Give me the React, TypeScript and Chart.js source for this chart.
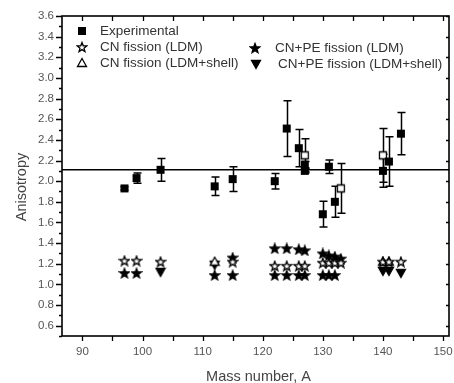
import { useEffect, useRef } from 'react';
import { Chart, registerables } from 'chart.js';
Chart.register(...registerables);

// ---- Data ----
const expMass = [97, 99, 103, 112, 115, 122, 124, 126, 127, 127, 130, 131, 132, 140, 141, 143];
const expAniso = [1.93, 2.03, 2.11, 1.95, 2.02, 2.0, 2.51, 2.32, 2.16, 2.1, 1.68, 2.14, 1.8, 2.1, 2.19, 2.46];
const expErr = [0.015, 0.05, 0.11, 0.09, 0.12, 0.075, 0.27, 0.18, 0.03, 0.02, 0.125, 0.065, 0.15, 0.16, 0.24, 0.205];

const openMass = [127, 133, 140];
const openAniso = [2.25, 1.93, 2.25];
const openErr = [0.16, 0.24, 0.26];

const cnLdmMass = [97, 99, 103, 115, 122, 124, 126, 127, 130, 131, 132, 133, 140, 141, 143];
const cnLdmAniso = [1.23, 1.23, 1.22, 1.22, 1.18, 1.18, 1.18, 1.18, 1.21, 1.21, 1.21, 1.21, 1.22, 1.22, 1.22];

const cnpeLdmMass = [115, 122, 124, 126, 127, 130, 131, 132, 133];
const cnpeLdmAniso = [1.26, 1.35, 1.35, 1.34, 1.33, 1.3, 1.28, 1.27, 1.25];
const cnpeLdmLowMass = [97, 99, 112, 115, 122, 124, 126, 127, 130, 131, 132];
const cnpeLdmLowAniso = [1.11, 1.11, 1.09, 1.09, 1.09, 1.09, 1.09, 1.09, 1.09, 1.09, 1.09];

const cnShellMass = [112, 140, 141];
const cnShellAniso = [1.22, 1.22, 1.22];

const cnpeShellMass = [103, 112, 140, 141, 143];
const cnpeShellAniso = [1.12, 1.19, 1.13, 1.13, 1.11];

const referenceLevel = 2.11;

const xTitle = 'Mass number, A';
const yTitle = 'Anisotropy';

const FONT = '"Liberation Sans", Arial, sans-serif';

const pts = (xs: number[], ys: number[]) => xs.map((x, i) => ({ x, y: ys[i] }));

function makeMarker(kind: string): HTMLCanvasElement {
  const s = 12;
  const c = document.createElement('canvas');
  c.width = s;
  c.height = s;
  const g = c.getContext('2d')!;
  const cx = s / 2, cy = s / 2;
  g.lineWidth = 1.3;
  g.strokeStyle = '#000';
  g.fillStyle = '#000';
  g.beginPath();
  if (kind === 'square') {
    g.rect(cx - 4, cy - 4, 8, 8);
    g.fill();
  } else if (kind === 'openSquare') {
    g.rect(cx - 3.5, cy - 3.5, 7, 7);
    g.fillStyle = '#fff';
    g.fill();
    g.stroke();
  } else if (kind === 'star' || kind === 'openStar') {
    for (let i = 0; i < 10; i++) {
      const r = i % 2 ? 2.1 : 5;
      const a = -Math.PI / 2 + (i * Math.PI) / 5;
      const px = cx + r * Math.cos(a), py = cy + 0.5 + r * Math.sin(a);
      if (i === 0) g.moveTo(px, py);
      else g.lineTo(px, py);
    }
    g.closePath();
    if (kind === 'openStar') {
      g.fillStyle = '#fff';
      g.fill();
      g.stroke();
    } else {
      g.fill();
      g.stroke();
    }
  } else if (kind === 'openTriangle') {
    g.moveTo(cx, cy - 4.5);
    g.lineTo(cx + 4.5, cy + 3.5);
    g.lineTo(cx - 4.5, cy + 3.5);
    g.closePath();
    g.fillStyle = '#fff';
    g.fill();
    g.stroke();
  } else if (kind === 'invTriangle') {
    g.moveTo(cx - 4.5, cy - 3.5);
    g.lineTo(cx + 4.5, cy - 3.5);
    g.lineTo(cx, cy + 4.5);
    g.closePath();
    g.fill();
    g.stroke();
  }
  return c;
}

// legend slots: [markerX, markerY, textX] (layout only)
const legendSlots: Record<number, [number, number, number]> = {
  0: [82, 31, 100],
  1: [82, 47, 100],
  2: [255, 48, 275],
  3: [82, 63, 100],
  4: [256, 64, 278],
};

const decorPlugin = {
  id: 'decor',
  beforeDatasetsDraw(chart: any) {
    const { ctx, chartArea, scales } = chart;
    const xs = scales.x, ys = scales.y;
    ctx.save();
    ctx.strokeStyle = '#000';
    ctx.lineWidth = 1.5;
    const yr = ys.getPixelForValue(referenceLevel);
    ctx.beginPath();
    ctx.moveTo(chartArea.left, yr);
    ctx.lineTo(chartArea.right, yr);
    ctx.stroke();
    chart.data.datasets.forEach((ds: any) => {
      const errs = ds.errors;
      if (!errs) return;
      ds.data.forEach((p: any, j: number) => {
        const px = Math.round(xs.getPixelForValue(p.x)) + 0.5;
        const top = ys.getPixelForValue(p.y + errs[j]);
        const bot = ys.getPixelForValue(p.y - errs[j]);
        ctx.beginPath();
        ctx.moveTo(px, top);
        ctx.lineTo(px, bot);
        ctx.moveTo(px - 4, top);
        ctx.lineTo(px + 4, top);
        ctx.moveTo(px - 4, bot);
        ctx.lineTo(px + 4, bot);
        ctx.stroke();
      });
    });
    ctx.restore();
  },
  afterDraw(chart: any) {
    const { ctx, chartArea, scales } = chart;
    const { left, right, top, bottom } = chartArea;
    const xs = scales.x, ys = scales.y;
    ctx.save();
    ctx.strokeStyle = '#000';
    ctx.lineWidth = 1.6;
    ctx.strokeRect(left, top, right - left, bottom - top);
    ctx.lineWidth = 1.3;
    ctx.beginPath();
    for (let k = Math.ceil(xs.min / 5); k * 5 <= xs.max; k++) {
      const px = Math.round(xs.getPixelForValue(k * 5)) + 0.5;
      ctx.moveTo(px, bottom);
      ctx.lineTo(px, bottom + 5);
      ctx.moveTo(px, top);
      ctx.lineTo(px, top + 5);
    }
    for (let k = Math.ceil(ys.min * 10 - 1e-6); k <= Math.floor(ys.max * 10 + 1e-6); k++) {
      const py = Math.round(ys.getPixelForValue(k / 10)) + 0.5;
      const major = k % 2 === 0;
      ctx.moveTo(left, py);
      ctx.lineTo(left - (major ? 6 : 3), py);
      if (major) {
        ctx.moveTo(right, py);
        ctx.lineTo(right - 3, py);
      }
    }
    ctx.stroke();

    // legend
    const markers = chart.options.plugins.decor.markers;
    ctx.font = `13.5px ${FONT}`;
    ctx.fillStyle = '#333';
    ctx.textBaseline = 'middle';
    ctx.textAlign = 'left';
    Object.keys(legendSlots).forEach((key) => {
      const i = Number(key);
      const [mx, my, tx] = legendSlots[i];
      const ds = chart.data.datasets[i];
      const img = markers[i];
      ctx.drawImage(img, mx - img.width / 2, my - img.height / 2);
      ctx.fillText(ds.label, tx, my);
    });

    // axis titles
    ctx.font = `14.5px ${FONT}`;
    ctx.fillStyle = '#444';
    ctx.textAlign = 'center';
    ctx.fillText(xTitle, (left + right) / 2 + 3, 377);
    ctx.translate(22, 187);
    ctx.rotate(-Math.PI / 2);
    ctx.fillText(yTitle, 0, 0);
    ctx.restore();
  },
};

export default function App() {
  const ref = useRef<HTMLCanvasElement>(null);
  useEffect(() => {
    document.body.style.margin = '0';
    const mk = {
      square: makeMarker('square'),
      openSquare: makeMarker('openSquare'),
      star: makeMarker('star'),
      openStar: makeMarker('openStar'),
      openTriangle: makeMarker('openTriangle'),
      invTriangle: makeMarker('invTriangle'),
    };
    const base = { showLine: false, pointRadius: 4, pointHoverRadius: 4 };
    const chart = new Chart(ref.current!, {
      type: 'scatter',
      data: {
        datasets: [
          { ...base, label: 'Experimental', data: pts(expMass, expAniso), pointStyle: mk.square, errors: expErr } as any,
          { ...base, label: 'CN fission (LDM)', data: pts(cnLdmMass, cnLdmAniso), pointStyle: mk.openStar },
          { ...base, label: 'CN+PE fission (LDM)', data: pts(cnpeLdmMass, cnpeLdmAniso), pointStyle: mk.star },
          { ...base, label: 'CN fission (LDM+shell)', data: pts(cnShellMass, cnShellAniso), pointStyle: mk.openTriangle },
          { ...base, label: 'CN+PE fission (LDM+shell)', data: pts(cnpeShellMass, cnpeShellAniso), pointStyle: mk.invTriangle },
          { ...base, label: 'Experimental (other)', data: pts(openMass, openAniso), pointStyle: mk.openSquare, errors: openErr } as any,
          { ...base, label: 'CN+PE fission (LDM) ', data: pts(cnpeLdmLowMass, cnpeLdmLowAniso), pointStyle: mk.star },
        ],
      },
      options: {
        responsive: false,
        animation: false,
        layout: { padding: { top: 16, right: 1, left: 0, bottom: 0 } },
        plugins: {
          legend: { display: false },
          tooltip: { enabled: false },
          decor: { markers: [mk.square, mk.openStar, mk.star, mk.openTriangle, mk.invTriangle] },
        } as any,
        scales: {
          x: {
            type: 'linear',
            min: 86.6,
            max: 151,
            grid: { display: false, drawTicks: false, tickLength: 0 },
            border: { display: false },
            ticks: {
              stepSize: 10,
              includeBounds: false,
              padding: 9,
              color: '#555',
              font: { family: FONT, size: 11.5 },
              maxRotation: 0,
              autoSkip: false,
            },
            afterFit: (s: any) => {
              s.height = 47;
              s.paddingLeft = 0;
              s.paddingRight = 0;
            },
          },
          y: {
            type: 'linear',
            min: 0.5,
            max: 3.6,
            grid: { display: false, drawTicks: false, tickLength: 0 },
            border: { display: false },
            ticks: {
              stepSize: 0.2,
              includeBounds: false,
              padding: 8,
              color: '#555',
              font: { family: FONT, size: 11.5 },
              callback: (v: any) => Number(v).toFixed(1),
              autoSkip: false,
            },
            afterFit: (s: any) => {
              s.width = 62;
              s.paddingTop = 0;
              s.paddingBottom = 0;
            },
          },
        },
      },
      plugins: [decorPlugin],
    });
    return () => chart.destroy();
  }, []);
  return (
    <div style={{ width: 454, height: 383 }}>
      <canvas ref={ref} width={454} height={383} style={{ display: 'block' }} />
    </div>
  );
}
